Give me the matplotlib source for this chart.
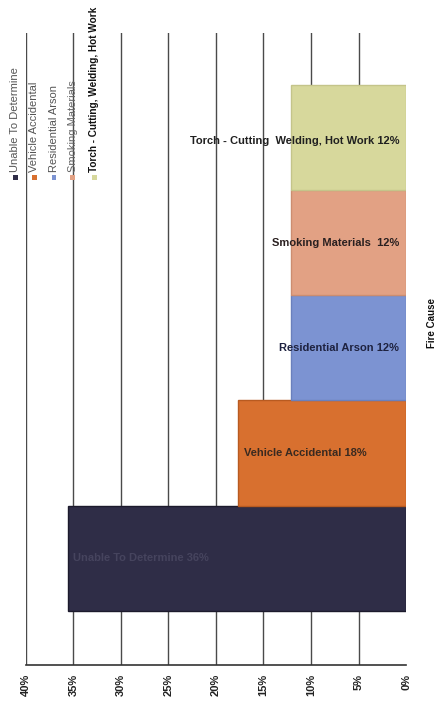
import matplotlib
matplotlib.use('Agg')
import matplotlib.pyplot as plt
from matplotlib.patches import Rectangle

plt.rcParams['font.family'] = ['Liberation Sans', 'DejaVu Sans']

# data, bottom to top
causes = ['Unable To Determine', 'Vehicle Accidental', 'Residential Arson',
          'Smoking Materials', 'Torch - Cutting, Welding, Hot Work']
values = [35.6, 17.7, 12.1, 12.1, 12.1]
bar_labels = ['Unable To Determine 36%', 'Vehicle Accidental 18%',
              'Residential Arson 12%', 'Smoking Materials  12%',
              'Torch - Cutting  Welding, Hot Work 12%']
colors = ['#2f2d47', '#d8702f', '#7c93d2', '#e2a184', '#d7d89c']
edges = ['#1c1a2c', '#b85a20', '#6a80bd', '#cc8d70', '#c4c48a']
ticks = [0, 5, 10, 15, 20, 25, 30, 35, 40]

fig = plt.figure(figsize=(4.38, 7.10), dpi=100)
ax = fig.add_axes([0.059, 0.063, 0.868, 0.891])

pos = list(range(len(causes)))
ax.barh(pos, values, height=1.0, color=colors, edgecolor=edges,
        linewidth=1.0, zorder=3)

ax.set_xlim(40, 0)
ax.set_ylim(-1.02, 5.0)

# vertical grid lines at each 5 %
for t in ticks[1:]:
    ax.axvline(t, color='#4a4a4a', lw=1.0, zorder=1)

for s in ['top', 'right', 'left']:
    ax.spines[s].set_visible(False)
ax.spines['bottom'].set_color('#333333')
ax.spines['bottom'].set_linewidth(1.2)

ax.set_yticks([])
ax.set_xticks(ticks)
ax.set_xticklabels([f'{t}%' for t in ticks], rotation=90, fontsize=8,
                   fontweight='bold', color='#222222')
ax.tick_params(axis='x', length=0, pad=6)

# labels on the bars
label_x = [35.0, 17.0, 0.7, 0.7, 0.7]
label_dy = [0.0, 0.0, 0.0, 0.0, -0.03]
label_ha = ['left', 'left', 'right', 'right', 'right']
label_c = ['#46445e', '#3a2a20', '#1e2240', '#2a2020', '#202020']
for i, txt in enumerate(bar_labels):
    ax.text(label_x[i], pos[i] + label_dy[i], txt, ha=label_ha[i],
            va='center', fontsize=8, fontweight='bold', color=label_c[i],
            zorder=4)

# axis title on the right
fig.text(0.986, 0.545, 'Fire Cause', rotation=90, ha='center', va='center',
         fontsize=7, fontweight='bold', color='#111111')

# rotated legend, top left
leg_x = [15, 34, 54, 73, 94]
leg_tc = ['#555555', '#555555', '#555555', '#666666', '#111111']
leg_w = ['normal', 'normal', 'normal', 'normal', 'bold']
leg_fs = [8, 8, 8, 8, 7.2]
W, H = 438.0, 710.0
for i in range(len(causes)):
    fx = leg_x[i] / W
    fig.patches.append(Rectangle((fx - 2.5 / W, (H - 180) / H), 5 / W, 5 / H,
                                 transform=fig.transFigure,
                                 facecolor=colors[i], edgecolor='none'))
    fig.text(fx, (H - 172) / H, causes[i], rotation=90, ha='center',
             va='bottom', fontsize=leg_fs[i], fontweight=leg_w[i],
             color=leg_tc[i])

fig.savefig('out.png', dpi=100)
